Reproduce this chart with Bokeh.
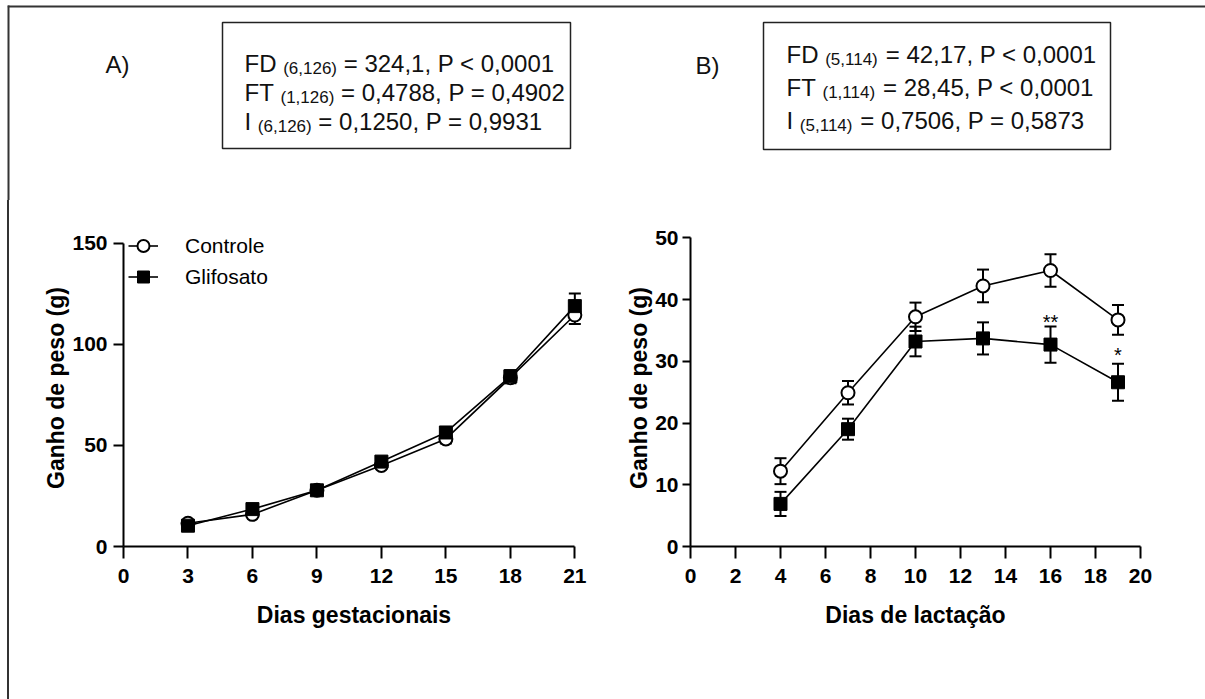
from bokeh.plotting import figure
from bokeh.models import (Range1d, FixedTicker, Whisker, TeeHead, ColumnDataSource,
                          Legend, LegendItem, Div)
from bokeh.layouts import column, row
from bokeh.core.properties import value
from bokeh.embed import file_html
from bokeh.resources import INLINE

# ---------------- data ----------------
# Panel A: weight gain during gestation
dias_gest = [3, 6, 9, 12, 15, 18, 21]
controle_A = [11.5, 15.9, 27.8, 40.1, 53.2, 83.5, 114.5]
controle_A_sem = [1.0, 1.2, 1.5, 1.8, 2.2, 2.8, 4.4]
glifosato_A = [10.3, 18.5, 27.8, 42.0, 56.4, 84.2, 118.9]
glifosato_A_sem = [1.0, 1.3, 1.5, 2.0, 2.4, 3.0, 6.2]

# Panel B: weight gain during lactation
dias_lact = [4, 7, 10, 13, 16, 19]
controle_B = [12.2, 24.9, 37.2, 42.2, 44.7, 36.7]
controle_B_sem = [2.1, 1.9, 2.3, 2.65, 2.65, 2.4]
glifosato_B = [6.9, 19.0, 33.2, 33.7, 32.7, 26.6]
glifosato_B_sem = [1.95, 1.7, 2.4, 2.6, 2.95, 3.0]

sig_x = [16, 19]
sig_y = [37.1, 31.9]
sig_text = ["**", "*"]

ticks_A_x = [0, 3, 6, 9, 12, 15, 18, 21]
ticks_A_y = [0, 50, 100, 150]
ticks_B_x = [0, 2, 4, 6, 8, 10, 12, 14, 16, 18, 20]
ticks_B_y = [0, 10, 20, 30, 40, 50]

series_names = ["Controle", "Glifosato"]
title_A_x = "Dias gestacionais"
title_B_x = "Dias de lactação"
title_y = "Ganho de peso (g)"

stats_A = [("FD", "(6,126)", "= 324,1, P < 0,0001"),
           ("FT", "(1,126)", "= 0,4788, P = 0,4902"),
           ("I", "(6,126)", "= 0,1250, P = 0,9931")]
stats_B = [("FD", "(5,114)", "= 42,17, P < 0,0001"),
           ("FT", "(1,114)", "= 28,45, P < 0,0001"),
           ("I", "(5,114)", "= 0,7506, P = 0,5873")]

FONT = "Liberation Sans"
MAIN = 24
SUB = 17
W = {'F': 611, 'D': 722, 'T': 611, 'I': 278, 'P': 667, '(': 333, ')': 333,
     ',': 278, '=': 584, '<': 584, ' ': 278}


def tw(s, size):
    return sum(W.get(c, 556) for c in s) * size / 1000.0


TOP_H = 200
ROW_H = 499

# ---------------- top strip (labels + stats boxes) ----------------
top = figure(width=1205, height=TOP_H, x_range=Range1d(0, 1205), y_range=Range1d(TOP_H, 0),
             output_backend="svg", toolbar_location=None, min_border=0,
             outline_line_color=None, x_axis_type=None, y_axis_type=None)
top.xgrid.visible = False
top.ygrid.visible = False
top.segment(x0=[7.3], y0=[6], x1=[1205], y1=[6], line_width=2, line_color="#333333")
top.segment(x0=[8], y0=[5], x1=[8], y1=[TOP_H], line_width=2, line_color="#333333")
top.quad(left=[222, 763], right=[570, 1110], top=[22, 22], bottom=[148, 149],
         fill_color=None, line_color="#222222", line_width=1.5)

tx, ty, tt, ts = [], [], [], []


def add(x, y, t, s):
    tx.append(x); ty.append(y); tt.append(t); ts.append(s)


add(105, 64, "A)", "24px")
add(695, 65, "B)", "24px")
for x0, baselines, rows in [(244, [63, 92, 121], stats_A), (786, [54, 87, 120], stats_B)]:
    for (pre, sub, rest), yb in zip(rows, baselines):
        add(x0, yb, pre, f"{MAIN}px")
        xs = x0 + tw(pre + " ", MAIN)
        add(xs, yb + 5, sub, f"{SUB}px")
        xr = xs + tw(sub, SUB) + tw(" ", MAIN)
        add(xr, yb, rest, f"{MAIN}px")

top.text(x="x", y="y", text="t", text_font_size="s",
         source=ColumnDataSource(dict(x=tx, y=ty, t=tt, s=ts)),
         text_font=value(FONT), text_color="#111111",
         text_baseline="alphabetic", text_align="left")

# left border for the lower row (plain HTML block)
edge = Div(text=f'<div style="margin:0 0 0 7px;padding:0;width:2px;height:{ROW_H}px;'
                f'background:#333333"></div>',
           width=9, height=ROW_H, margin=0)


def style_axes(p, xticks, yticks, xb, yb, xlabel, ytick, ystand, ytitle_stand):
    p.xgrid.visible = False
    p.ygrid.visible = False
    p.xaxis.ticker = FixedTicker(ticks=xticks)
    p.yaxis.ticker = FixedTicker(ticks=yticks)
    p.xaxis.bounds = xb
    p.yaxis.bounds = yb
    p.xaxis.axis_label = xlabel
    p.yaxis.axis_label = title_y
    for ax in p.axis:
        ax.axis_line_width = 2
        ax.axis_line_color = "black"
        ax.major_tick_line_width = 2
        ax.major_tick_line_color = "black"
        ax.major_tick_in = 0
        ax.minor_tick_line_color = None
        ax.major_label_text_font = FONT
        ax.major_label_text_font_style = "bold"
        ax.major_label_text_font_size = "21px"
        ax.major_label_text_color = "black"
        ax.axis_label_text_font = FONT
        ax.axis_label_text_font_style = "bold"
        ax.axis_label_text_font_size = "23px"
        ax.axis_label_text_color = "black"
    p.xaxis.major_tick_out = 12
    p.xaxis.major_label_standoff = 10
    p.xaxis.axis_label_standoff = 16
    p.yaxis.major_tick_out = ytick
    p.yaxis.major_label_standoff = ystand
    p.yaxis.axis_label_standoff = ytitle_stand


def draw_series(p, x, c, csem, g, gsem):
    src = ColumnDataSource(dict(
        x=x, c=c, cl=[a - b for a, b in zip(c, csem)], cu=[a + b for a, b in zip(c, csem)],
        g=g, gl=[a - b for a, b in zip(g, gsem)], gu=[a + b for a, b in zip(g, gsem)]))
    for lo, up in [("cl", "cu"), ("gl", "gu")]:
        p.add_layout(Whisker(source=src, base="x", lower=lo, upper=up, line_width=2,
                             line_color="black",
                             upper_head=TeeHead(size=12, line_width=2, line_color="black"),
                             lower_head=TeeHead(size=12, line_width=2, line_color="black")))
    lc = p.line("x", "c", source=src, line_width=1.6, line_color="black")
    sc = p.scatter("x", "c", source=src, marker="circle", size=13, fill_color="white",
                   line_color="black", line_width=2)
    lg = p.line("x", "g", source=src, line_width=1.6, line_color="black")
    sg = p.scatter("x", "g", source=src, marker="square", size=13, fill_color="black",
                   line_color="black", line_width=1)
    return lc, sc, lg, sg


BT, BB = 29, 153  # common top / bottom borders (frames 229..546)

# ---------------- panel A ----------------
pA = figure(width=591, height=ROW_H, x_range=Range1d(0, 21.45), y_range=Range1d(0, 156.8),
            output_backend="svg", toolbar_location=None,
            min_border_left=114, min_border_right=16, min_border_top=BT, min_border_bottom=BB,
            outline_line_color=None, background_fill_color="white")
style_axes(pA, ticks_A_x, ticks_A_y, (0, 21), (0, 150), title_A_x, 10, 6, 0)
lc, sc, lg, sg = draw_series(pA, dias_gest, controle_A, controle_A_sem, glifosato_A, glifosato_A_sem)
legend = Legend(items=[LegendItem(label=series_names[0], renderers=[lc, sc]),
                       LegendItem(label=series_names[1], renderers=[lg, sg])],
                location=(5, 254), orientation="vertical", padding=0, margin=0, spacing=0,
                glyph_width=30, glyph_height=31, label_height=31, label_standoff=27,
                label_text_font=FONT, label_text_font_size="21px", label_text_color="black",
                border_line_color=None, background_fill_alpha=0)
pA.add_layout(legend)

# ---------------- panel B ----------------
pB = figure(width=605, height=ROW_H, x_range=Range1d(0, 20), y_range=Range1d(0, 51.34),
            output_backend="svg", toolbar_location=None,
            min_border_left=90, min_border_right=65, min_border_top=BT, min_border_bottom=BB,
            outline_line_color=None, background_fill_color="white")
style_axes(pB, ticks_B_x, ticks_B_y, (0, 20), (0, 50), title_B_x, 8, 4, 0)
draw_series(pB, dias_lact, controle_B, controle_B_sem, glifosato_B, glifosato_B_sem)
pB.text(x=sig_x, y=sig_y, text=sig_text, text_font=value(FONT), text_font_size="20px",
        text_align="center", text_baseline="middle", y_offset=5, text_color="black")

layout = column(top, row(edge, pA, pB))
open("out.html", "w").write(file_html(layout, INLINE))
